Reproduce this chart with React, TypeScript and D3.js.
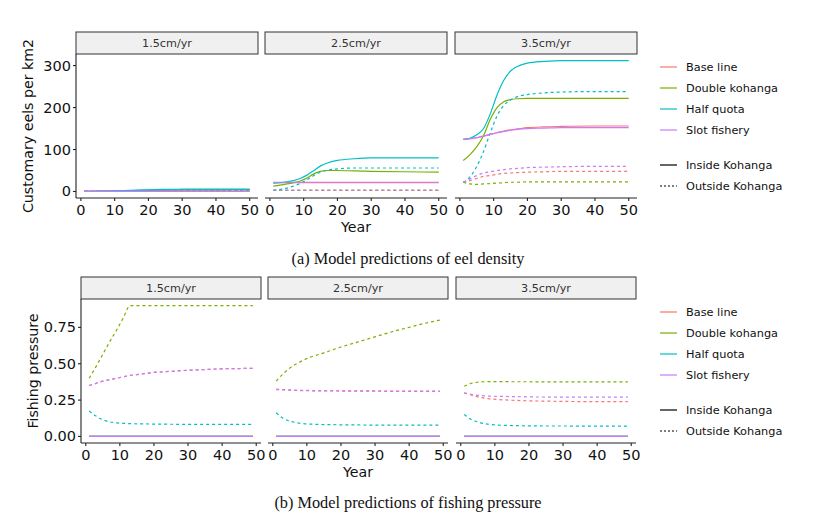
import * as d3 from "d3";

// scenarios, in ggplot's default hue order
const scenarios = ["Base line", "Double kohanga", "Half quota", "Slot fishery"];
const scenarioColors = ["#F8766D", "#7CAE00", "#00BFC4", "#C77CFF"];
const panels = ["1.5cm/yr", "2.5cm/yr", "3.5cm/yr"];
const xTicks = [0, 10, 20, 30, 40, 50];

// ---- (a) eel density ----
const densityYears = [1, 3, 5, 7, 9, 11, 13, 15, 17, 20, 25, 30, 40, 50];
const densityTicks = [0, 100, 200, 300];

// 1.5cm/yr
const dens15Inside = [
  [0.5, 0.5, 0.6, 0.7, 0.8, 1, 1.2, 1.5, 1.8, 2.2, 2.8, 3.2, 3.5, 3.6],
  [0.5, 0.6, 0.7, 0.9, 1.1, 1.4, 1.8, 2.2, 2.6, 3.2, 3.8, 4.2, 4.5, 4.6],
  [0.5, 0.6, 0.8, 1, 1.3, 1.7, 2.2, 2.8, 3.4, 4.2, 5, 5.5, 5.8, 5.9],
  [0.2, 0.2, 0.2, 0.2, 0.2, 0.2, 0.2, 0.2, 0.2, 0.2, 0.2, 0.2, 0.2, 0.2],
];
const dens15Outside = [
  [0.2, 0.2, 0.3, 0.3, 0.4, 0.5, 0.6, 0.7, 0.8, 1, 1.2, 1.4, 1.5, 1.5],
  [0.2, 0.2, 0.3, 0.3, 0.4, 0.5, 0.6, 0.7, 0.8, 0.9, 1.1, 1.2, 1.3, 1.3],
  [0.2, 0.3, 0.4, 0.5, 0.7, 0.9, 1.2, 1.6, 2, 2.6, 3.2, 3.6, 3.9, 4],
  [0.1, 0.1, 0.1, 0.1, 0.1, 0.1, 0.1, 0.1, 0.1, 0.1, 0.1, 0.1, 0.1, 0.1],
];
// 2.5cm/yr
const dens25Inside = [
  [21, 21, 21, 21, 21, 21, 21, 21, 21, 21, 21, 21, 21, 21],
  [13, 15, 18, 21, 25, 32, 42, 48, 50, 50, 49, 48, 47, 46],
  [20, 21, 23, 26, 31, 39, 50, 61, 68, 74, 78, 80, 80, 80],
  [22, 22, 22, 22, 22, 22, 22, 22, 22, 22, 22, 22, 22, 22],
];
const dens25Outside = [
  [3, 3, 3, 3, 3, 3, 3, 3, 3, 3, 3, 3, 3, 3],
  [2.5, 2.5, 2.5, 2.5, 2.5, 2.5, 2.5, 2.5, 2.5, 2.5, 2.5, 2.5, 2.5, 2.5],
  [3, 5, 8, 13, 19, 28, 38, 46, 51, 54, 56, 56, 56, 56],
  [3, 3, 3, 3, 3, 3, 3, 3, 3, 3, 3, 3, 3, 3],
];
// 3.5cm/yr
const dens35Inside = [
  [124, 126, 128, 132, 136, 140, 144, 147, 149, 152, 154, 155, 156, 156],
  [74, 88, 107, 133, 172, 200, 214, 219, 221, 222, 222, 222, 222, 222],
  [124, 127, 135, 150, 185, 230, 265, 287, 298, 306, 310, 312, 312, 312],
  [124, 126, 128, 132, 136, 140, 143, 146, 148, 150, 151, 152, 152, 152],
];
const dens35Outside = [
  [22, 26, 31, 36, 38, 41, 43, 44, 45, 46, 47, 48, 48, 48],
  [22, 18, 17, 18, 19, 20, 21, 22, 22, 23, 23, 23, 23, 23],
  [22, 35, 60, 95, 140, 180, 205, 218, 226, 231, 235, 237, 238, 238],
  [22, 30, 38, 44, 47, 50, 52, 54, 55, 57, 58, 59, 60, 60],
];

// ---- (b) fishing pressure ----
const pressureYears = [1, 3, 5, 7, 9, 11, 13, 15, 20, 25, 30, 35, 40, 45, 49];
const pressureTicks = [0, 0.25, 0.5, 0.75];
const pressureInside = [0, 0, 0, 0, 0, 0, 0, 0, 0, 0, 0, 0, 0, 0, 0];

const pres15Outside = [
  [0.35, 0.365, 0.38, 0.39, 0.4, 0.41, 0.42, 0.425, 0.44, 0.448, 0.455, 0.46, 0.465, 0.467, 0.468],
  [0.4, 0.48, 0.565, 0.65, 0.73, 0.815, 0.9, 0.9, 0.9, 0.9, 0.9, 0.9, 0.9, 0.9, 0.9],
  [0.175, 0.14, 0.115, 0.1, 0.094, 0.09, 0.088, 0.087, 0.085, 0.084, 0.083, 0.083, 0.083, 0.083, 0.083],
  [0.35, 0.365, 0.38, 0.39, 0.4, 0.41, 0.42, 0.425, 0.44, 0.448, 0.455, 0.46, 0.465, 0.467, 0.468],
];
const pres25Outside = [
  [0.322, 0.32, 0.318, 0.316, 0.315, 0.314, 0.313, 0.313, 0.312, 0.311, 0.311, 0.31, 0.31, 0.31, 0.31],
  [0.38, 0.43, 0.47, 0.5, 0.525, 0.545, 0.56, 0.575, 0.615, 0.65, 0.685, 0.72, 0.75, 0.78, 0.8],
  [0.163, 0.125, 0.105, 0.095, 0.088, 0.085, 0.083, 0.082, 0.08, 0.079, 0.078, 0.078, 0.078, 0.078, 0.078],
  [0.325, 0.322, 0.32, 0.318, 0.317, 0.316, 0.315, 0.315, 0.314, 0.313, 0.313, 0.312, 0.312, 0.312, 0.312],
];
const pres35Outside = [
  [0.3, 0.285, 0.272, 0.263, 0.258, 0.254, 0.251, 0.249, 0.245, 0.243, 0.241, 0.24, 0.24, 0.24, 0.24],
  [0.345, 0.365, 0.373, 0.376, 0.377, 0.377, 0.377, 0.376, 0.376, 0.375, 0.375, 0.375, 0.375, 0.375, 0.375],
  [0.151, 0.118, 0.1, 0.088, 0.082, 0.078, 0.076, 0.075, 0.073, 0.072, 0.072, 0.071, 0.071, 0.071, 0.071],
  [0.3, 0.29, 0.283, 0.279, 0.277, 0.276, 0.275, 0.274, 0.272, 0.271, 0.271, 0.27, 0.27, 0.27, 0.27],
];

const FONT = "DejaVu Sans, sans-serif";
const SERIF = "Liberation Serif, serif";

// ggplot-style 5% expansion
const expand = (lo: number, hi: number): [number, number] => {
  const d = (hi - lo) * 0.05;
  return [lo - d, hi + d];
};

interface Series {
  inside: number[][];
  outside: number[][];
}

interface FacetProps {
  top: number;
  height: number;
  lefts: number[];
  width: number;
  years: number[];
  data: Series[];
  yTicks: number[];
  yFormat: (v: number) => string;
  yTitle: string;
}

const Facets = ({ top, height, lefts, width, years, data, yTicks, yFormat, yTitle }: FacetProps) => {
  const stripH = 22;
  const py = top + stripH;
  const allVals = data.flatMap((s) => [...s.inside.flat(), ...s.outside.flat()]);
  const y = d3
    .scaleLinear()
    .domain(expand(d3.min(allVals)!, d3.max(allVals)!))
    .range([py + height, py]);
  const xDomain = expand(d3.min(years)!, d3.max(years)!);

  return (
    <g>
      {/* y axis title */}
      <text
        transform={`translate(${lefts[0] - 43},${py + height / 2}) rotate(-90)`}
        textAnchor="middle"
        fontFamily={FONT}
        fontSize={14.2}
        fill="#111"
      >
        {yTitle}
      </text>
      {panels.map((p, pi) => {
        const left = lefts[pi];
        const x = d3.scaleLinear().domain(xDomain).range([left, left + width]);
        const line = (vals: number[]) =>
          d3
            .line<number>()
            .x((_, i) => x(years[i]))
            .y((v) => y(v))
            .curve(d3.curveMonotoneX)(vals) ?? "";
        const s = data[pi];
        return (
          <g key={p}>
            {/* strip */}
            <rect x={left} y={top} width={width} height={stripH} fill="#F0F0F0" stroke="#333" strokeWidth={1} />
            <text
              x={left + width / 2}
              y={top + stripH / 2 + 4}
              textAnchor="middle"
              fontFamily={FONT}
              fontSize={11.2}
              fill="#333"
            >
              {p}
            </text>
            {/* lines: outside dashed, inside solid, per scenario */}
            {scenarios.map((sc, si) => (
              <g key={sc}>
                <path d={line(s.outside[si])} fill="none" stroke={scenarioColors[si]} strokeWidth={1.2} strokeDasharray="3,3" />
                <path d={line(s.inside[si])} fill="none" stroke={scenarioColors[si]} strokeWidth={1.2} />
              </g>
            ))}
            {/* x axis */}
            <line x1={left} x2={left + width} y1={py + height} y2={py + height} stroke="#222" strokeWidth={1.1} />
            {xTicks.map((t) => (
              <g key={t}>
                <line x1={x(t)} x2={x(t)} y1={py + height} y2={py + height + 3} stroke="#222" strokeWidth={1.1} />
                <text x={x(t)} y={py + height + 17} textAnchor="middle" fontFamily={FONT} fontSize={14.5} fill="#111">
                  {t}
                </text>
              </g>
            ))}
            {pi === 1 && (
              <text x={left + width / 2} y={py + height + 34} textAnchor="middle" fontFamily={FONT} fontSize={14.2} fill="#111">
                Year
              </text>
            )}
            {/* y axis only on first panel */}
            {pi === 0 && (
              <g>
                <line x1={left} x2={left} y1={py} y2={py + height} stroke="#222" strokeWidth={1.1} />
                {yTicks.map((t) => (
                  <g key={t}>
                    <line x1={left - 3} x2={left} y1={y(t)} y2={y(t)} stroke="#222" strokeWidth={1.1} />
                    <text x={left - 5} y={y(t) + 5} textAnchor="end" fontFamily={FONT} fontSize={14.5} fill="#111">
                      {yFormat(t)}
                    </text>
                  </g>
                ))}
              </g>
            )}
          </g>
        );
      })}
    </g>
  );
};

const Legend = ({ top }: { top: number }) => {
  const x0 = 660;
  const rowH = 21;
  return (
    <g fontFamily={FONT} fontSize={11.3} fill="#111">
      {scenarios.map((sc, i) => (
        <g key={sc}>
          <line x1={x0} x2={x0 + 17} y1={top + i * rowH} y2={top + i * rowH} stroke={scenarioColors[i]} strokeWidth={1.2} />
          <text x={x0 + 26} y={top + i * rowH + 4}>
            {sc}
          </text>
        </g>
      ))}
      {["Inside Kohanga", "Outside Kohanga"].map((lab, i) => {
        const yy = top + 98 + i * rowH;
        return (
          <g key={lab}>
            <line x1={x0} x2={x0 + 17} y1={yy} y2={yy} stroke="#000" strokeWidth={1.2} strokeDasharray={i === 1 ? "2,2" : undefined} />
            <text x={x0 + 26} y={yy + 4}>
              {lab}
            </text>
          </g>
        );
      })}
    </g>
  );
};

export default function App() {
  return (
    <svg width={840} height={517} style={{ position: "absolute", left: 0, top: 0, background: "#fff" }}>
      <rect width={840} height={517} fill="#fff" />
      <Facets
        top={32}
        height={144}
        lefts={[76, 265, 455]}
        width={182}
        years={densityYears}
        data={[
          { inside: dens15Inside, outside: dens15Outside },
          { inside: dens25Inside, outside: dens25Outside },
          { inside: dens35Inside, outside: dens35Outside },
        ]}
        yTicks={densityTicks}
        yFormat={(v) => String(v)}
        yTitle="Customary eels per km2"
      />
      <Legend top={67} />
      <text x={408} y={264} textAnchor="middle" fontFamily={SERIF} fontSize={16.3} fill="#111">
        (a) Model predictions of eel density
      </text>

      <Facets
        top={277}
        height={144}
        lefts={[81, 268, 456]}
        width={180}
        years={pressureYears}
        data={[
          { inside: scenarios.map(() => pressureInside), outside: pres15Outside },
          { inside: scenarios.map(() => pressureInside), outside: pres25Outside },
          { inside: scenarios.map(() => pressureInside), outside: pres35Outside },
        ]}
        yTicks={pressureTicks}
        yFormat={(v) => v.toFixed(2)}
        yTitle="Fishing pressure"
      />
      <Legend top={312} />
      <text x={408} y={508} textAnchor="middle" fontFamily={SERIF} fontSize={16.3} fill="#111">
        (b) Model predictions of fishing pressure
      </text>
    </svg>
  );
}
